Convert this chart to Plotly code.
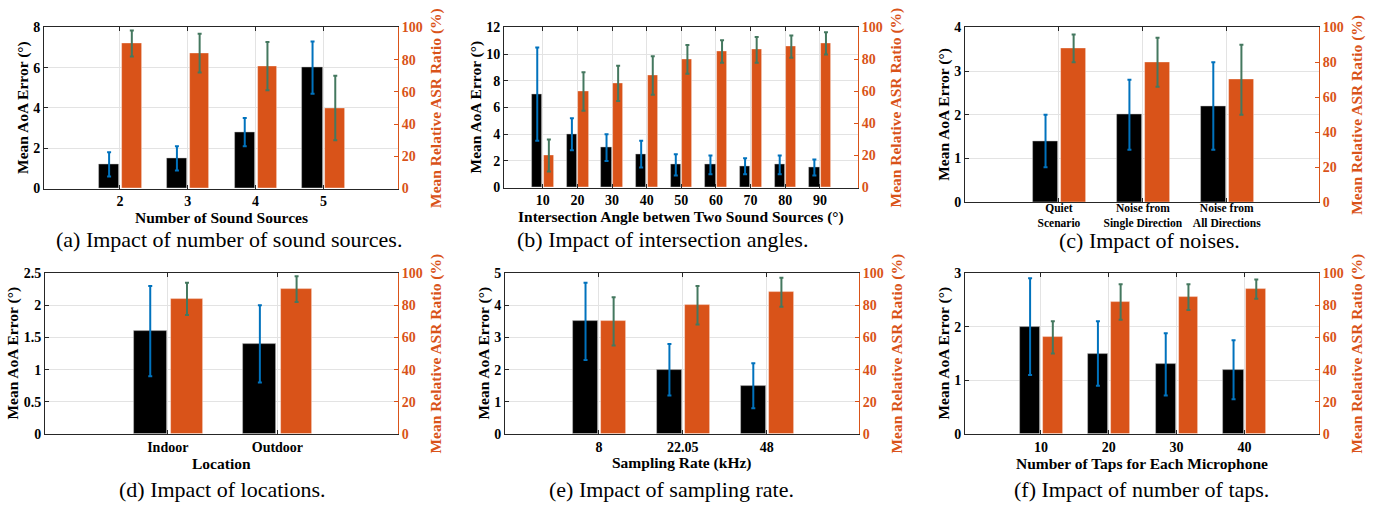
import plotly.graph_objects as go

# ---------------- data ----------------
# (a) number of sound sources
a_cats = ['2', '3', '4', '5']
a_aoa = [1.2, 1.5, 2.8, 6.0]
a_aoa_err = [0.6, 0.6, 0.7, 1.3]
a_asr = [90, 84, 76, 50]
a_asr_err = [8, 12, 15, 20]

# (b) intersection angles
b_cats = ['10', '20', '30', '40', '50', '60', '70', '80', '90']
b_aoa = [7.0, 4.0, 3.0, 2.5, 1.7, 1.7, 1.6, 1.7, 1.5]
b_aoa_err = [3.5, 1.2, 1.0, 1.0, 0.8, 0.7, 0.6, 0.7, 0.6]
b_asr = [20, 60, 65, 70, 80, 85, 86, 88, 90]
b_asr_err = [10, 12, 11, 12, 9, 7, 8, 7, 7]

# (c) noises
c_cats = ['Quiet<br>Scenario', 'Noise from<br>Single Direction', 'Noise from<br>All Directions']
c_aoa = [1.4, 2.0, 2.2]
c_aoa_err = [0.6, 0.8, 1.0]
c_asr = [88, 80, 70]
c_asr_err = [8, 14, 20]

# (d) locations
d_cats = ['Indoor', 'Outdoor']
d_aoa = [1.6, 1.4]
d_aoa_err = [0.7, 0.6]
d_asr = [84, 90]
d_asr_err = [10, 8]

# (e) sampling rate
e_cats = ['8', '22.05', '48']
e_aoa = [3.5, 2.0, 1.5]
e_aoa_err = [1.2, 0.8, 0.7]
e_asr = [70, 80, 88]
e_asr_err = [15, 12, 9]

# (f) number of taps
f_cats = ['10', '20', '30', '40']
f_aoa = [2.0, 1.5, 1.3, 1.2]
f_aoa_err = [0.9, 0.6, 0.58, 0.55]
f_asr = [60, 82, 85, 90]
f_asr_err = [10, 11, 8, 6]

left_ranges = [[0, 8], [0, 12], [0, 4], [0, 2.5], [0, 5], [0, 3]]
left_dticks = [2, 2, 1, 0.5, 1, 1]
x_titles = ['Number of Sound Sources',
            'Intersection Angle betwen Two Sound Sources (°)',
            '',
            'Location',
            'Sampling Rate (kHz)',
            'Number of Taps for Each Microphone']
captions = ['(a) Impact of number of sound sources.',
            '(b) Impact of intersection angles.',
            '(c) Impact of noises.',
            '(d) Impact of locations.',
            '(e) Impact of sampling rate.',
            '(f) Impact of number of taps.']
y_left_title = 'Mean AoA Error (°)'
y_right_title = 'Mean Relative ASR Ratio (%)'

panels = [
    (a_cats, a_aoa, a_aoa_err, a_asr, a_asr_err),
    (b_cats, b_aoa, b_aoa_err, b_asr, b_asr_err),
    (c_cats, c_aoa, c_aoa_err, c_asr, c_asr_err),
    (d_cats, d_aoa, d_aoa_err, d_asr, d_asr_err),
    (e_cats, e_aoa, e_aoa_err, e_asr, e_asr_err),
    (f_cats, f_aoa, f_aoa_err, f_asr, f_asr_err),
]

# ---------------- layout geometry (pixels) ----------------
W, H = 1377, 514
FONT = 'Liberation Serif'
BLACK = '#000000'
ORANGE = '#D95319'
BLUE = '#0072BD'
GREEN = '#44785F'
AXIS = '#262626'
GRID = '#E3E3E3'

# plot boxes: (left, right, top, bottom)
boxes = [(44, 398, 21, 187), (504, 858, 21, 186), (965, 1319, 21, 201),
         (45, 398, 274, 440), (505, 859, 274, 440), (965, 1319, 274, 440)]
ytitle_off = [21, 28, 21, 32, 21, 21]
caption_pos = [(229, 240), (662, 240), (1149, 241), (222, 497), (671, 497), (1141, 497)]


def fx(v):
    return v / W


def fy(v):
    return 1 - v / H


fig = go.Figure()
annotations = []
layout = {}

for i, (cats, aoa, aoa_err, asr, asr_err) in enumerate(panels):
    n = len(cats)
    xs = list(range(n))
    xname = 'x' if i == 0 else f'x{i + 1}'
    yl = 2 * i + 1
    yr = 2 * i + 2
    ylname = 'y' if yl == 1 else f'y{yl}'
    yrname = f'y{yr}'
    xkey = 'xaxis' if i == 0 else f'xaxis{i + 1}'
    ylkey = 'yaxis' if yl == 1 else f'yaxis{yl}'
    yrkey = f'yaxis{yr}'

    fig.add_trace(go.Bar(
        x=xs, y=aoa, xaxis=xname, yaxis=ylname,
        offset=-0.31, width=0.30,
        marker=dict(color=BLACK, line=dict(color='rgba(200,200,200,0.6)', width=0.8)),
        error_y=dict(type='data', array=aoa_err, color=BLUE, thickness=2, width=2),
        showlegend=False, hoverinfo='skip'))
    fig.add_trace(go.Bar(
        x=xs, y=asr, xaxis=xname, yaxis=yrname,
        offset=0.03, width=0.29,
        marker=dict(color=ORANGE, line=dict(color='rgba(255,255,255,0.45)', width=0.8)),
        error_y=dict(type='data', array=asr_err, color=GREEN, thickness=2, width=2),
        showlegend=False, hoverinfo='skip'))

    L, R, T, B = boxes[i]
    tickfont = dict(family=FONT, size=11.5 if i == 2 else 14, color=BLACK, weight='bold')
    layout[xkey] = dict(
        domain=[fx(L), fx(R)], anchor=ylname,
        range=[-1.12, n - 1 + 1.1],
        tickmode='array', tickvals=xs, ticktext=cats,
        showgrid=True, gridcolor=GRID, gridwidth=1,
        showline=True, linecolor=AXIS, linewidth=1, mirror='ticks',
        ticks='inside', ticklen=4, tickcolor=AXIS,
        ticklabelstandoff=-5 if i == 2 else 0,
        tickfont=tickfont, zeroline=False, fixedrange=True)
    layout[ylkey] = dict(
        domain=[fy(B), fy(T)], anchor=xname,
        range=left_ranges[i], dtick=left_dticks[i], tick0=0,
        showgrid=True, gridcolor=GRID, gridwidth=1,
        showline=True, linecolor=AXIS, linewidth=1,
        ticks='inside', ticklen=4, tickcolor=AXIS,
        tickfont=dict(family=FONT, size=14, color=BLACK, weight='bold'),
        zeroline=False, fixedrange=True)
    layout[yrkey] = dict(
        overlaying=ylname, side='right', anchor=xname,
        range=[0, 100], dtick=20, tick0=0,
        showgrid=False, showline=True, linecolor=ORANGE, linewidth=1,
        ticks='inside', ticklen=4, tickcolor=ORANGE,
        tickfont=dict(family=FONT, size=14, color=ORANGE, weight='bold'),
        zeroline=False, fixedrange=True)

    cx = (L + R) / 2
    cy = (T + B) / 2
    if x_titles[i]:
        annotations.append(dict(
            text=x_titles[i], xref='paper', yref='paper',
            x=fx(cx), y=fy(B + 30), xanchor='center', yanchor='middle',
            showarrow=False, font=dict(family=FONT, size=15.5, color=BLACK, weight='bold')))
    annotations.append(dict(
        text=y_left_title, xref='paper', yref='paper', textangle=-90,
        x=fx(L - ytitle_off[i]), y=fy(cy), xanchor='center', yanchor='middle',
        showarrow=False, font=dict(family=FONT, size=15.5, color=BLACK, weight='bold')))
    annotations.append(dict(
        text=y_right_title, xref='paper', yref='paper', textangle=-90,
        x=fx(R + 38), y=fy(cy), xanchor='center', yanchor='middle',
        showarrow=False, font=dict(family=FONT, size=15.5, color=ORANGE, weight='bold')))
    px, py = caption_pos[i]
    annotations.append(dict(
        text=captions[i], xref='paper', yref='paper',
        x=fx(px), y=fy(py), xanchor='center', yanchor='middle',
        showarrow=False, font=dict(family=FONT, size=22, color=BLACK)))

fig.update_layout(
    width=W, height=H,
    margin=dict(l=0, r=0, t=0, b=0),
    paper_bgcolor='white', plot_bgcolor='white',
    bargap=0, barmode='overlay',
    annotations=annotations,
    **layout)

fig.write_html('out.html', config={'displayModeBar': False},
               post_script="document.body.style.margin='0';document.body.style.overflow='hidden';")
